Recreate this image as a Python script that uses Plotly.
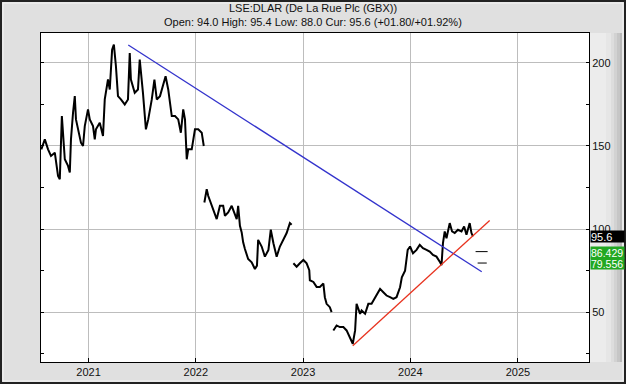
import plotly.graph_objects as go

# ---- data ----
dates = [
    "2020-07-24", "2020-08-05", "2020-08-16", "2020-08-26", "2020-09-08", "2020-09-19", "2020-09-25",
    "2020-10-02", "2020-10-12", "2020-10-23", "2020-10-29", "2020-11-02", "2020-11-09", "2020-11-15",
    "2020-11-19", "2020-11-26", "2020-12-06", "2020-12-13", "2020-12-19", "2020-12-30", "2021-01-05",
    "2021-01-16", "2021-01-22", "2021-01-26", "2021-02-08", "2021-02-19", "2021-02-25", "2021-03-08",
    "2021-03-14", "2021-03-22", "2021-03-28", "2021-04-04", "2021-04-11", "2021-04-21", "2021-05-04",
    "2021-05-15", "2021-05-21", "2021-05-25", "2021-06-07", "2021-06-18", "2021-06-24", "2021-07-05",
    "2021-07-15", "2021-07-23", "2021-08-04", "2021-08-13", "2021-08-21", "2021-09-01", "2021-09-12",
    "2021-09-20", "2021-09-29", "2021-10-11", "2021-10-22", "2021-11-02", "2021-11-11", "2021-11-19",
    "2021-11-25", "2021-12-01", "2021-12-06", "2021-12-18", "2021-12-29", "2022-01-09", "2022-01-21",
    "2022-01-28", "2022-01-29",
    "2022-01-30", "2022-02-07", "2022-02-12", "2022-02-24", "2022-03-07", "2022-03-13", "2022-03-24",
    "2022-04-04", "2022-04-10", "2022-04-21", "2022-05-03", "2022-05-12", "2022-05-20", "2022-05-25",
    "2022-05-31", "2022-06-06", "2022-06-11", "2022-06-17", "2022-06-28", "2022-07-10", "2022-07-21",
    "2022-07-28", "2022-08-01", "2022-08-13", "2022-08-24", "2022-09-05", "2022-09-13", "2022-09-22",
    "2022-10-03", "2022-10-14", "2022-10-26", "2022-11-06", "2022-11-17", "2022-11-23", "2022-11-26",
    "2022-11-29", "2022-12-10", "2022-12-21", "2023-01-02", "2023-01-13", "2023-01-22", "2023-01-24",
    "2023-02-05", "2023-02-16", "2023-02-27", "2023-03-11", "2023-03-16", "2023-03-22", "2023-04-02",
    "2023-04-08", "2023-04-11",
    "2023-04-14", "2023-04-25", "2023-05-06", "2023-05-18", "2023-05-29", "2023-06-09", "2023-06-19",
    "2023-06-27", "2023-07-02", "2023-07-14", "2023-07-19", "2023-07-31", "2023-08-11", "2023-08-22",
    "2023-08-28", "2023-09-08", "2023-09-20", "2023-10-01", "2023-10-12", "2023-10-24", "2023-11-04",
    "2023-11-15", "2023-11-27", "2023-12-03", "2023-12-14", "2023-12-23", "2023-12-31", "2024-01-10",
    "2024-01-22", "2024-02-02", "2024-02-13", "2024-02-25", "2024-03-07", "2024-03-18", "2024-03-30",
    "2024-04-10", "2024-04-16", "2024-04-21", "2024-04-27", "2024-05-03", "2024-05-14", "2024-05-22",
    "2024-05-31", "2024-06-11", "2024-06-23", "2024-07-02", "2024-07-10", "2024-07-21", "2024-07-27",
    "2024-08-01",
]
close = [
    148, 154, 148, 144, 146, 132, 130,
    168, 142, 138, 134, 154, 170, 180,
    166, 160, 152, 150, 162, 172, 166,
    162, 154, 160, 164, 156, 178, 190,
    184, 208, 211, 198, 180, 178, 175,
    178, 206, 190, 182, 184, 202, 182,
    160, 166, 178, 190, 178, 180, 188,
    192, 184, 168, 168, 166, 158, 172,
    166, 142, 148, 148, 160, 160, 158,
    150, None,
    116, 124, 120, 114, 108, 106, 114,
    114, 108, 110, 114, 110, 106, 114,
    102, 98, 92, 88, 82, 80, 76,
    78, 93.5, 89.5, 83.4, 87.5, 99.6, 91.5,
    83.4, 89.5, 93.5, 97.6, 103.6, 102.6, None,
    79.4, 77.3, 79.4, 81.4, 79.4, 75.3, 69.2,
    68.2, 65.2, 65.2, 67.2, 59, 55, 53,
    50, None,
    39, 42, 41, 41, 39, 35, 31,
    39, 55, 49, 51, 49, 55, 55,
    57, 60, 64, 62, 60, 59, 58,
    59, 65, 71, 75, 87.5, 89.5, 85.4,
    87.5, 90.5, 88.5, 87.5, 86.4, 84.4, 83.4,
    80.4, 78.3, 91.5, 98.6, 94.5, 103.6, 98.6,
    97.6, 99.6, 98.6, 101.6, 96.6, 103.6, 97.6,
    95.6,
]

down_trend_dates = ["2021-05-16", "2024-08-31"]
down_trend_vals = [210.8, 74.3]
up_trend_dates = ["2023-06-19", "2024-09-27"]
up_trend_vals = [29.8, 105.2]

target1_dates = ["2024-08-10", "2024-09-20"]
target1_vals = [86.429, 86.429]
target2_dates = ["2024-08-17", "2024-09-17"]
target2_vals = [79.556, 79.556]

current_price = 95.6
targets = [86.429, 79.556]

title_line1 = "LSE:DLAR (De La Rue Plc (GBX))"
title_line2 = "Open: 94.0 High: 95.4 Low: 88.0 Cur: 95.6 (+01.80/+01.92%)"

# ---- figure ----
W, H = 626, 384
ML, MR, MT, MB = 41, 37, 33, 22
PW, PH = W - ML - MR, H - MT - MB

def px_x(px):
    return (px - ML) / PW

def px_y(py):
    return 1 - (py - MT) / PH

FONT = "Liberation Sans, Arial, sans-serif"

fig = go.Figure()
fig.add_trace(go.Scatter(x=dates, y=close, mode="lines", connectgaps=False,
                         line=dict(color="black", width=2), hoverinfo="skip"))
fig.add_trace(go.Scatter(x=down_trend_dates, y=down_trend_vals, mode="lines",
                         line=dict(color="#3333cc", width=1.3)))
fig.add_trace(go.Scatter(x=up_trend_dates, y=up_trend_vals, mode="lines",
                         line=dict(color="#e8321e", width=1.3)))
fig.add_trace(go.Scatter(x=target1_dates, y=target1_vals, mode="lines",
                         line=dict(color="black", width=1)))
fig.add_trace(go.Scatter(x=target2_dates, y=target2_vals, mode="lines",
                         line=dict(color="black", width=1)))

shapes = []
# right axis panel with gradient
strips = [(589, 606, "#ececec"), (606, 611, "#e6e6e6"), (611, 614, "#dddddd"),
          (614, 617, "#d2d2d2"), (617, 620, "#c6c6c6"), (620, 622, "#b8b8b8")]
for a, b, c in strips:
    shapes.append(dict(type="rect", xref="paper", yref="paper", x0=px_x(a), x1=px_x(b),
                       y0=px_y(362), y1=px_y(33), fillcolor=c, line=dict(width=0), layer="below"))
# outer frame
shapes.append(dict(type="rect", xref="paper", yref="paper", x0=px_x(1), x1=px_x(625),
                   y0=px_y(383), y1=px_y(1), line=dict(color="#222222", width=2),
                   fillcolor="rgba(0,0,0,0)", layer="above"))
shapes.append(dict(type="rect", xref="paper", yref="paper", x0=px_x(3), x1=px_x(623),
                   y0=px_y(381), y1=px_y(3), line=dict(color="#f4f4f4", width=1),
                   fillcolor="rgba(0,0,0,0)", layer="above"))

annotations = [
    dict(text=title_line1, xref="paper", yref="paper", x=0.5 * (px_x(0) + px_x(W)), y=px_y(8),
         showarrow=False, xanchor="center", yanchor="middle", font=dict(size=11, color="#111", family=FONT)),
    dict(text=title_line2, xref="paper", yref="paper", x=0.5 * (px_x(0) + px_x(W)), y=px_y(22),
         showarrow=False, xanchor="center", yanchor="middle", font=dict(size=11, color="#111", family=FONT)),
    dict(text=f"{current_price}", xref="paper", yref="y", x=1.0, y=current_price, xshift=1,
         showarrow=False, xanchor="left", yanchor="middle", align="left", width=33, height=11,
         bgcolor="black", borderpad=0, font=dict(size=11, color="white", family=FONT)),
]
for t, dy in zip(targets, [-0.6, -0.5]):
    annotations.append(dict(text=f"{t}", xref="paper", yref="y", x=1.0, y=t + dy, xshift=1,
                            showarrow=False, xanchor="left", yanchor="middle", align="left",
                            width=33, height=11, bgcolor="#22a822", borderpad=0,
                            font=dict(size=10.5, color="white", family=FONT)))

fig.update_layout(
    width=W, height=H,
    margin=dict(l=ML, r=MR, t=MT, b=MB, pad=0),
    paper_bgcolor="#e0e0e0",
    plot_bgcolor="white",
    showlegend=False,
    font=dict(family=FONT, size=11, color="#111"),
    shapes=shapes,
    annotations=annotations,
    xaxis=dict(type="date", range=["2020-07-23", "2025-08-31"], tick0="2021-01-01", dtick="M12",
               tickformat="%Y", showgrid=True, gridcolor="#bdbdbd", gridwidth=1,
               showline=True, linecolor="black", linewidth=1, mirror=True,
               ticks="inside", ticklen=4, tickcolor="black", zeroline=False, automargin=False,
               tickfont=dict(size=11, color="#111", family=FONT)),
    yaxis=dict(range=[20, 218], side="right", tickvals=[50, 100, 150, 200], showgrid=True,
               gridcolor="#bdbdbd", gridwidth=1, showline=True, linecolor="black", linewidth=1,
               mirror="ticks", ticks="inside", ticklen=3, tickcolor="black", zeroline=False,
               automargin=False,
               minor=dict(tickvals=[25, 75, 125, 175], ticks="inside", ticklen=3, tickcolor="black",
                          showgrid=False),
               tickfont=dict(size=11, color="#111", family=FONT)),
)

fig.write_html("out.html", config={"displayModeBar": False, "staticPlot": True},
               post_script="document.body.style.margin='0';document.body.style.padding='0';document.body.style.overflow='hidden';")
